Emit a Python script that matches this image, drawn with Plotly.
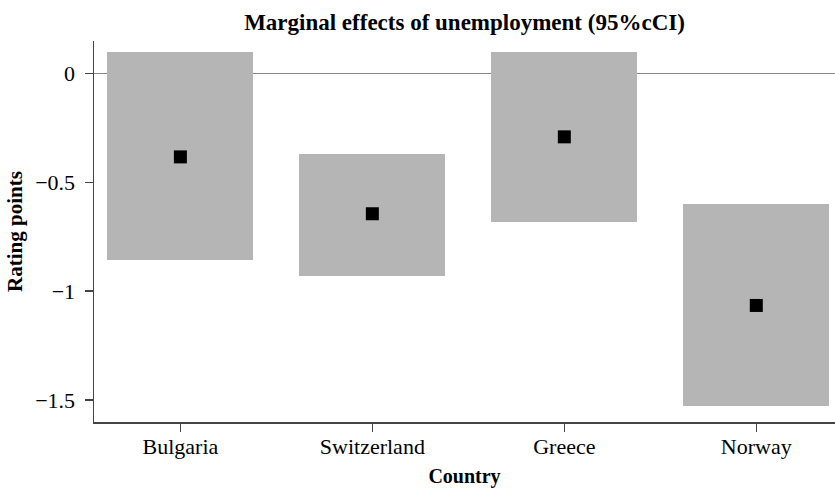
import plotly.graph_objects as go

countries = ["Bulgaria", "Switzerland", "Greece", "Norway"]
estimate = [-0.384, -0.645, -0.292, -1.066]
ci_lower = [-0.858, -0.930, -0.682, -1.529]
ci_upper = [0.099, -0.370, 0.099, -0.600]

xpos = [1, 2, 3, 4]
font_family = "Liberation Serif, Times New Roman, serif"

fig = go.Figure()
fig.add_trace(go.Bar(
    x=xpos,
    y=[u - l for u, l in zip(ci_upper, ci_lower)],
    base=ci_lower,
    width=0.76,
    marker=dict(color="#b5b5b5", line=dict(width=0)),
    showlegend=False,
))
fig.add_trace(go.Scatter(
    x=xpos, y=estimate, mode="markers",
    marker=dict(symbol="square", size=13, color="black"),
    showlegend=False,
))

fig.update_layout(
    width=835, height=488,
    margin=dict(l=94, r=0, t=41, b=66),
    plot_bgcolor="white", paper_bgcolor="white",
    font=dict(family=font_family, color="black", size=22),
    title=dict(text="<b>Marginal effects of unemployment (95%cCI)</b>",
               x=0.5, xref="paper", xanchor="center",
               y=0.955, yref="container", yanchor="middle",
               font=dict(size=23, family=font_family)),
    xaxis=dict(
        range=[0.55, 4.41], tickvals=xpos, ticktext=countries,
        showgrid=False, zeroline=False, automargin=False,
        showline=True, linecolor="#444", linewidth=1.5,
        ticks="outside", ticklen=8, tickcolor="#444", tickwidth=1.3,
        ticklabelstandoff=-4,
        tickfont=dict(size=22),
        title=dict(text="<b>Country</b>", font=dict(size=20), standoff=12),
    ),
    yaxis=dict(
        range=[-1.601, 0.148], tickvals=[0, -0.5, -1, -1.5],
        showgrid=False, automargin=False,
        zeroline=True, zerolinecolor="#888", zerolinewidth=1.2,
        showline=True, linecolor="#444", linewidth=1.5,
        ticks="outside", ticklen=8, tickcolor="#444", tickwidth=1.3,
        ticklabelstandoff=5,
        tickfont=dict(size=22),
        title=dict(text="<b>Rating points</b>", font=dict(size=21), standoff=7),
    ),
    bargap=0,
    hovermode=False,
)

fig.write_html(
    "out.html",
    config={"displayModeBar": False, "staticPlot": True},
    post_script="document.body.style.margin='0';document.body.style.padding='0';",
)
